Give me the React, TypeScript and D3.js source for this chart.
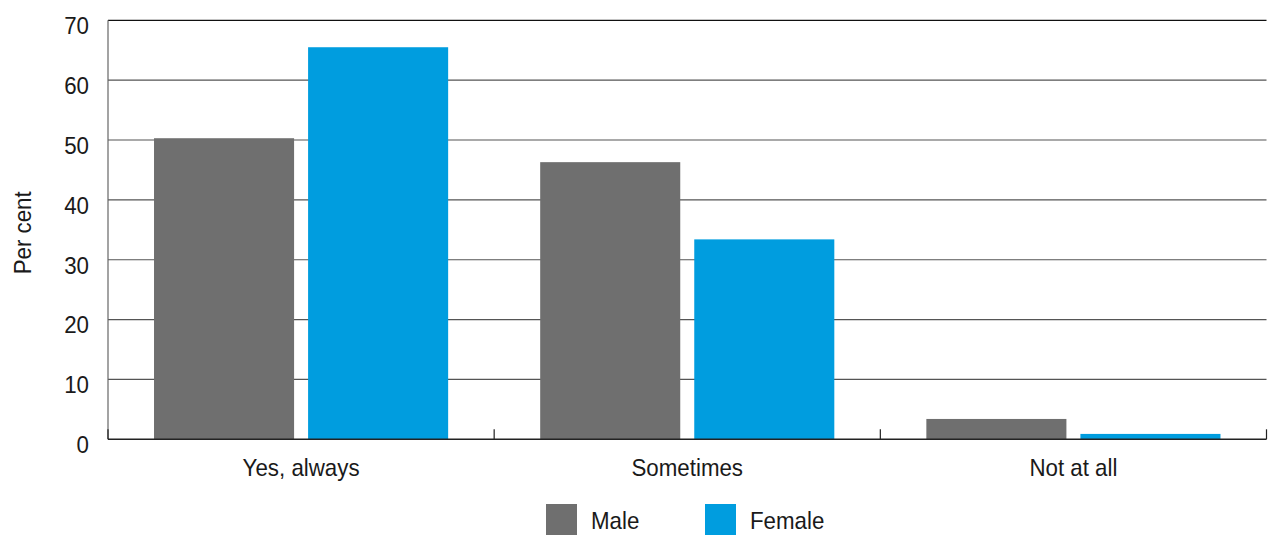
import React from "react";
import * as d3 from "d3";

const categories = ["Yes, always", "Sometimes", "Not at all"];
const seriesNames = ["Male", "Female"];
const maleValues = [50.3, 46.3, 3.4];
const femaleValues = [65.5, 33.4, 0.9];
const yTicks = [0, 10, 20, 30, 40, 50, 60, 70];
const yLabel = "Per cent";

const colors = ["#6f6f6f", "#009ddf"];
const FONT = "'Liberation Sans', Arial, sans-serif";
const FS = 24;
const SX = 0.93;

function T({ x, y, anchor = "start", rotate = 0, children }: { x: number; y: number; anchor?: string; rotate?: number; children: React.ReactNode }) {
  return (
    <g transform={`translate(${x},${y}) rotate(${rotate}) scale(${SX},1)`}>
      <text x={0} y={0} textAnchor={anchor as any} dominantBaseline="middle" fontSize={FS} fill="#1a1a1a">
        {children}
      </text>
    </g>
  );
}

export default function App() {
  const W = 1269, H = 535;
  const left = 108, right = 1266.5, top = 20.3, bottom = 439.3;
  const x = d3.scaleBand().domain(categories).range([left, right]).paddingInner(0).paddingOuter(0);
  const y = d3.scaleLinear().domain([0, 70]).range([bottom, top]);
  const bw = x.bandwidth();
  const inner = d3.scaleBand().domain(seriesNames).range([(46 / 386) * bw, bw - (46 / 386) * bw]).paddingInner(14 / 154).paddingOuter(0);
  const data = [maleValues, femaleValues];

  return (
    <svg width={W} height={H} style={{ position: "absolute", left: 0, top: 0 }} fontFamily={FONT}>
      {yTicks.map((t) => (
        <g key={t}>
          {t > 0 && t < 70 && (
            <line x1={left} x2={right} y1={y(t)} y2={y(t)} stroke="#555" strokeWidth={1.2} />
          )}
          <T x={89} y={y(t) + 7.5} anchor="end">{t}</T>
        </g>
      ))}
      <line x1={left} x2={right} y1={top} y2={top} stroke="#111" strokeWidth={1.3} />
      <line x1={left} x2={left} y1={top} y2={bottom} stroke="#666" strokeWidth={1.2} />
      {categories.map((c, i) =>
        seriesNames.map((s, j) => (
          <rect
            key={c + s}
            x={(x(c) as number) + (inner(s) as number)}
            y={y(data[j][i])}
            width={inner.bandwidth()}
            height={bottom - y(data[j][i])}
            fill={colors[j]}
          />
        ))
      )}
      <line x1={left} x2={right} y1={bottom} y2={bottom} stroke="#222" strokeWidth={1.4} />
      {[...categories.map((c) => x(c) as number), right].map((p, i) => (
        <line key={i} x1={p} x2={p} y1={bottom - 10} y2={bottom} stroke="#222" strokeWidth={1.2} />
      ))}
      {categories.map((c) => (
        <T key={c} x={(x(c) as number) + bw / 2} y={470} anchor="middle">{c}</T>
      ))}
      <T x={25} y={(top + bottom) / 2 + 3} anchor="middle" rotate={-90}>{yLabel}</T>
      {seriesNames.map((s, j) => {
        const lx = [546, 705][j];
        return (
          <g key={s}>
            <rect x={lx} y={504} width={31} height={31} fill={colors[j]} />
            <T x={lx + 45} y={523}>{s}</T>
          </g>
        );
      })}
    </svg>
  );
}
